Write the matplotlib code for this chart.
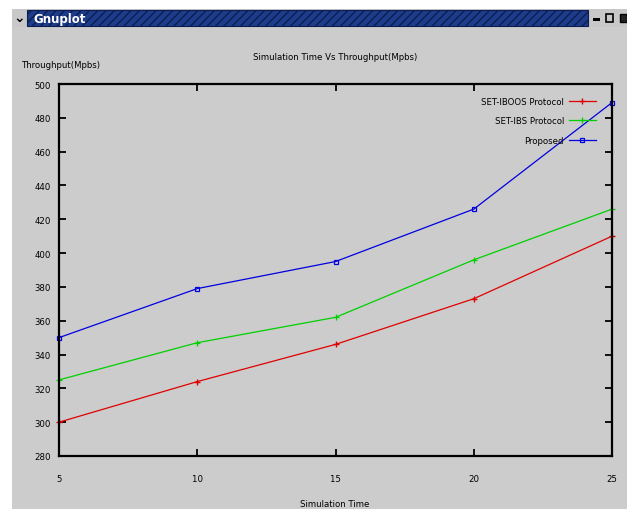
import matplotlib
matplotlib.use("Agg")
import matplotlib.pyplot as plt
import matplotlib.patches as mpatches
from matplotlib import font_manager

# ---- data ----
sim_time = [5, 10, 15, 20, 25]
set_iboos = [300, 324, 346, 373, 410]
set_ibs = [325, 347, 362, 396, 426]
proposed = [350, 379, 395, 426, 489]
y_ticks = [280, 300, 320, 340, 360, 380, 400, 420, 440, 460, 480, 500]
x_ticks = [5, 10, 15, 20, 25]

# narrow face for the gnuplot-style labels
names = {f.name for f in font_manager.fontManager.ttflist}
if "Liberation Sans Narrow" in names:
    plt.rcParams['font.family'] = ["Liberation Sans Narrow", "DejaVu Sans"]
    plt.rcParams['font.stretch'] = "normal"
else:
    plt.rcParams['font.family'] = ["DejaVu Sans"]
    plt.rcParams['font.stretch'] = "condensed"
plt.rcParams['hatch.color'] = "#3a5cb0"
FS = 6.8

W, H = 627, 510
fig = plt.figure(figsize=(W / 100, H / 100), dpi=100)
fig.patch.set_facecolor("white")

def fx(px):
    return px / W

def fy(py):
    return 1 - py / H

def rect(x0, y0, x1, y1, **kw):
    r = mpatches.Rectangle((fx(x0), fy(y1)), fx(x1) - fx(x0), fy(y0) - fy(y1),
                           transform=fig.transFigure, **kw)
    fig.patches.append(r)
    return r

# window client area and title bar
rect(12, 28, W, H, facecolor="#cccccc", edgecolor="none", zorder=-5)
rect(12, 10, W, 28, facecolor="#c8c8c8", edgecolor="none", zorder=-4)
rect(27, 11, 588, 27, facecolor="#1e3c8c", edgecolor="#0c1e50", lw=0.8, hatch="////", zorder=-3)
fig.text(fx(33), fy(19), "Gnuplot", color="white", fontsize=8.5, fontweight="bold",
         va="center", ha="left", family=["DejaVu Sans"], stretch="normal")
fig.text(fx(19), fy(18), "\u2304", color="black", fontsize=10, fontweight="bold",
         va="center", ha="center", family=["DejaVu Sans"], stretch="normal")
# window buttons
rect(593, 19, 600, 22, facecolor="black", edgecolor="none", zorder=-2)
rect(606, 15, 613, 23, facecolor="none", edgecolor="black", lw=1.2, zorder=-2)
rect(620, 15, 627, 23, facecolor="#222222", edgecolor="black", lw=1.0, zorder=-2)

# plot area
ax = fig.add_axes([fx(59), fy(457), fx(612) - fx(59), fy(85) - fy(457)])
ax.set_zorder(5)
ax.set_facecolor("#cccccc")
ax.set_xlim(5, 25)
ax.set_ylim(280, 500)
ax.set_xticks(x_ticks)
ax.set_yticks(y_ticks)
ax.tick_params(direction="in", length=5, width=1.3, top=True, right=True,
               labelsize=FS, colors="black", pad=6)
ax.tick_params(axis="x", pad=13)
for s in ax.spines.values():
    s.set_linewidth(1.6)
    s.set_color("black")

ax.plot(sim_time, set_iboos, color="#e00000", lw=0.9, marker="+", ms=4, mew=1,
        label="SET-IBOOS Protocol", clip_on=False)
ax.plot(sim_time, set_ibs, color="#00d000", lw=0.9, marker="+", ms=5, mew=0.9,
        label="SET-IBS Protocol", clip_on=False)
ax.plot(sim_time, proposed, color="#0000e0", lw=0.9, marker="s", ms=3.2, mew=0.9, mfc="none",
        label="Proposed", clip_on=False)

leg = ax.legend(loc="upper right", frameon=False, fontsize=FS, markerfirst=False,
                handlelength=2.9, handletextpad=0.5, borderaxespad=0.0, labelspacing=1.1,
                bbox_to_anchor=(0.978, 0.975))
leg._legend_box.align = "right"
for t in leg.get_texts():
    t.set_ha("right")

fig.text(fx(335), fy(57), "Simulation Time Vs Throughput(Mpbs)", fontsize=FS,
         ha="center", va="center")
fig.text(fx(22), fy(66), "Throughput(Mpbs)", fontsize=FS, ha="left", va="center")
fig.text(fx(335), fy(505), "Simulation Time", fontsize=FS, ha="center", va="center")

fig.savefig("out.png", dpi=100, facecolor=fig.get_facecolor())
